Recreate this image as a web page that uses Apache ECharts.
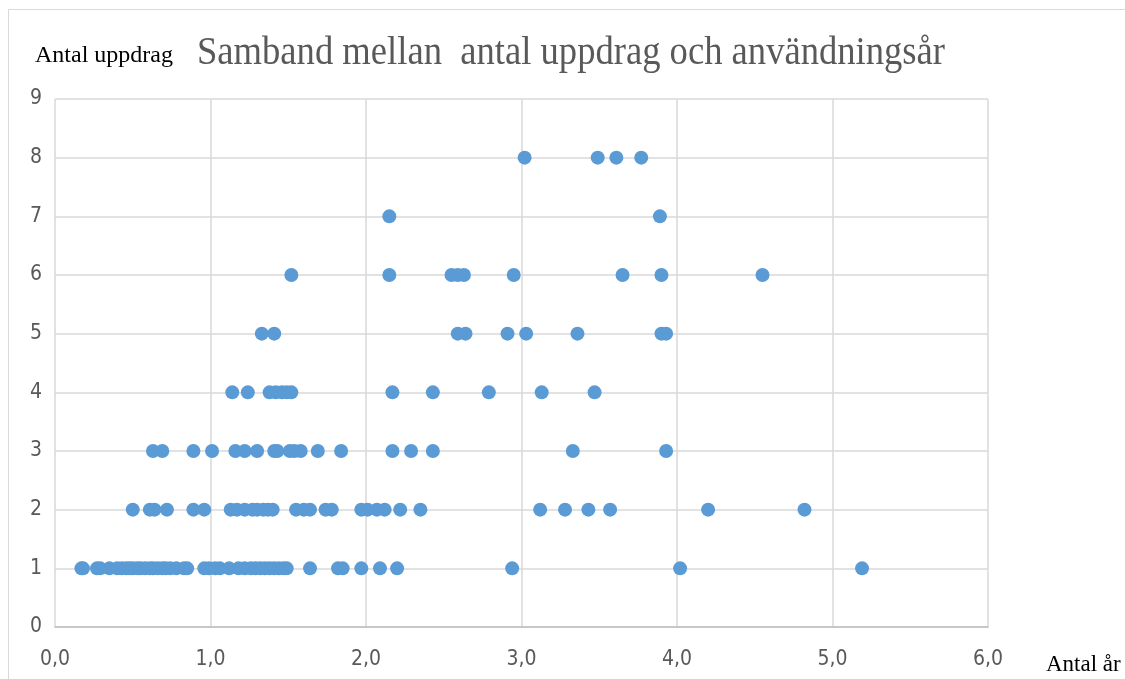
<!DOCTYPE html>
<html>
<head>
<meta charset="utf-8">
<title>Samband mellan antal uppdrag och användningsår</title>
<script src="https://cdn.jsdelivr.net/npm/echarts@6/dist/echarts.min.js"></script>
<style>
  html, body { margin: 0; padding: 0; background: #ffffff; }
  #chart { width: 1125px; height: 679px; }
</style>
</head>
<body>
<div id="chart"></div>
<script>
// Years of use for each assignment count (x = antal år, y = antal uppdrag)
const years1 = [0.17, 0.18, 0.27, 0.29, 0.35, 0.40, 0.43, 0.46, 0.48, 0.50, 0.53, 0.55, 0.58, 0.61, 0.63, 0.66, 0.69, 0.71, 0.74, 0.78, 0.83, 0.85, 0.96, 0.99, 1.03, 1.06, 1.12, 1.18, 1.22, 1.26, 1.29, 1.32, 1.35, 1.38, 1.41, 1.44, 1.47, 1.49, 1.64, 1.82, 1.85, 1.97, 2.09, 2.20, 2.94, 4.02, 5.19];
const years2 = [0.50, 0.61, 0.64, 0.72, 0.89, 0.96, 1.13, 1.17, 1.22, 1.27, 1.30, 1.34, 1.37, 1.40, 1.55, 1.60, 1.64, 1.74, 1.78, 1.97, 2.01, 2.07, 2.12, 2.22, 2.35, 3.12, 3.28, 3.43, 3.57, 4.20, 4.82];
const years3 = [0.63, 0.69, 0.89, 1.01, 1.16, 1.22, 1.30, 1.41, 1.43, 1.51, 1.54, 1.58, 1.69, 1.84, 2.17, 2.29, 2.43, 3.33, 3.93];
const years4 = [1.14, 1.24, 1.38, 1.42, 1.46, 1.49, 1.52, 2.17, 2.43, 2.79, 3.13, 3.47];
const years5 = [1.33, 1.41, 2.59, 2.64, 2.91, 3.03, 3.36, 3.90, 3.93];
const years6 = [1.52, 2.15, 2.55, 2.59, 2.63, 2.95, 3.65, 3.90, 4.55];
const years7 = [2.15, 3.89];
const years8 = [3.02, 3.49, 3.61, 3.77];

const xTickLabels = ['0,0', '1,0', '2,0', '3,0', '4,0', '5,0', '6,0'];
const yTickLabels = ['0', '1', '2', '3', '4', '5', '6', '7', '8', '9'];

const groups = [years1, years2, years3, years4, years5, years6, years7, years8];
const points = [];
groups.forEach((list, i) => {
  list.forEach(x => points.push([x, i + 1]));
});

const tickFont = '"DejaVu Sans Condensed", "Liberation Sans", sans-serif';

const chart = echarts.init(document.getElementById('chart'), null, { renderer: 'canvas' });

chart.setOption({
  backgroundColor: '#ffffff',
  animation: false,
  grid: { left: 55, right: 137, top: 99, bottom: 52, containLabel: false },
  graphic: [
    {
      type: 'rect',
      shape: { x: 8.5, y: 9.5, width: 1200, height: 800 },
      style: { fill: 'none', stroke: '#d9d9d9', lineWidth: 1 },
      silent: true
    },
    {
      type: 'text',
      x: 197, y: 33,
      scaleX: 0.915,
      style: {
        text: 'Samband mellan  antal uppdrag och användningsår',
        font: '40px "Liberation Serif"',
        fill: '#595959'
      }
    },
    {
      type: 'text',
      x: 35, y: 44,
      style: {
        text: 'Antal uppdrag',
        font: '24px "Liberation Serif"',
        fill: '#000000'
      }
    },
    {
      type: 'text',
      x: 1046, y: 653,
      style: {
        text: 'Antal år',
        font: '23px "Liberation Serif"',
        fill: '#000000'
      }
    }
  ],
  xAxis: {
    type: 'value',
    min: 0, max: 6, interval: 1,
    axisLine: { show: true, lineStyle: { color: '#bfbfbf', width: 1.5 } },
    axisTick: { show: false },
    splitLine: { show: true, lineStyle: { color: '#d9d9d9', width: 1.5 } },
    axisLabel: {
      margin: 22,
      color: '#595959',
      fontFamily: tickFont,
      fontSize: 21,
      formatter: v => xTickLabels[Math.round(v)]
    }
  },
  yAxis: {
    type: 'value',
    min: 0, max: 9, interval: 1,
    axisLine: { show: false },
    axisTick: { show: false },
    splitLine: { show: true, lineStyle: { color: '#d9d9d9', width: 1.5 } },
    axisLabel: {
      margin: 13,
      color: '#595959',
      fontFamily: tickFont,
      fontSize: 21,
      formatter: v => yTickLabels[Math.round(v)]
    }
  },
  series: [{
    type: 'scatter',
    data: points,
    symbol: 'circle',
    symbolSize: 14,
    itemStyle: { color: '#5b9bd5', opacity: 1 }
  }]
});
</script>
</body>
</html>
